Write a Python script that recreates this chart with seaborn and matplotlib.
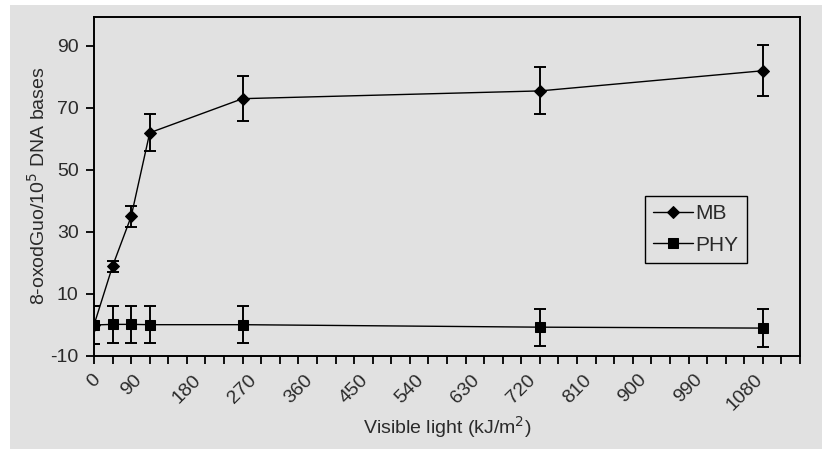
import matplotlib
matplotlib.use("Agg")
import matplotlib.pyplot as plt
from matplotlib.patches import Rectangle
import pandas as pd
import seaborn as sns

# dose positions on the drawn axis (kJ/m2, one minor tick = 30)
dose = [0, 30, 60, 90, 240, 720, 1080]
mb_mean = [0, 19, 35, 62, 73, 75.5, 82]
mb_err = [6, 1.8, 3.5, 6, 7.3, 7.6, 8.2]
phy_mean = [0, 0.2, 0.2, 0.1, 0.1, -0.7, -1.0]
phy_err = [6, 6, 6, 6, 6, 6, 6]
xtick_labels = [0, 90, 180, 270, 360, 450, 540, 630, 720, 810, 900, 990, 1080]
ytick_vals = [-10, 10, 30, 50, 70, 90]

bg = "#e1e1e1"
txt = "#2a2a2a"

df = pd.concat([
    pd.DataFrame({"dose": dose, "val": mb_mean, "err": mb_err, "group": "MB"}),
    pd.DataFrame({"dose": dose, "val": phy_mean, "err": phy_err, "group": "PHY"}),
])

sns.set_style("ticks")
plt.rcParams["font.family"] = ["Liberation Sans", "DejaVu Sans"]

fig = plt.figure(figsize=(8.22, 4.49), dpi=100, facecolor="white")
fig.patches.append(Rectangle((10 / 822, 0), 1, 1 - 5 / 449, transform=fig.transFigure,
                             facecolor=bg, edgecolor="none", zorder=-10))
ax = fig.add_axes([94 / 822, 1 - 356 / 449, 706 / 822, 339.5 / 449])
ax.set_facecolor(bg)

marker_size = {"D": 5.8, "s": 7.5}
for name, sub in df.groupby("group"):
    ax.errorbar(sub["dose"], sub["val"], yerr=sub["err"], fmt="none", ecolor="black",
                elinewidth=1.4, capsize=4, capthick=1.4, zorder=2)
sns.lineplot(data=df, x="dose", y="val", hue="group", style="group",
             markers={"MB": "D", "PHY": "s"}, dashes=False,
             palette={"MB": "black", "PHY": "black"},
             linewidth=1.0, markeredgecolor="black", ax=ax, zorder=3)
for line in ax.get_lines():
    if line.get_marker() in marker_size:
        line.set_markersize(marker_size[line.get_marker()])

ax.set_xlim(0, 1140)
ax.set_ylim(-10, 99.5)
ax.set_xticks(range(0, 1141, 30))
pos = {0 if v == 0 else v - 30: str(v) for v in xtick_labels}
ax.set_xticklabels([pos.get(t, "") for t in range(0, 1141, 30)], rotation=45,
                   ha="center", fontsize=14, color=txt)
ax.set_yticks(ytick_vals)
ax.set_yticklabels([str(v) for v in ytick_vals], fontsize=14, color=txt)
ax.tick_params(axis="both", direction="out", length=6, width=1.3, color="black")
ax.tick_params(axis="x", pad=5)
ax.tick_params(axis="y", pad=5)

for s in ax.spines.values():
    s.set_visible(True)
    s.set_color("black")
    s.set_linewidth(1.4)

ax.set_xlabel("Visible light (kJ/m$^2$)", fontsize=14, color=txt, labelpad=0)
ax.set_ylabel("8-oxodGuo/10$^5$ DNA bases", fontsize=14, color=txt, labelpad=1)

leg = ax.legend(loc="upper left", bbox_to_anchor=(0.78, 0.472), frameon=True,
                fancybox=False, edgecolor="black", facecolor=bg, framealpha=1,
                fontsize=15, handlelength=1.9, labelspacing=0.6, borderpad=0.4,
                handletextpad=0.15, borderaxespad=0)
leg.get_frame().set_linewidth(1.0)
for h in leg.legend_handles:
    if h.get_marker() in marker_size:
        h.set_markersize(marker_size[h.get_marker()])
for t in leg.get_texts():
    t.set_color(txt)

fig.savefig("out.png", dpi=100, facecolor=fig.get_facecolor())
